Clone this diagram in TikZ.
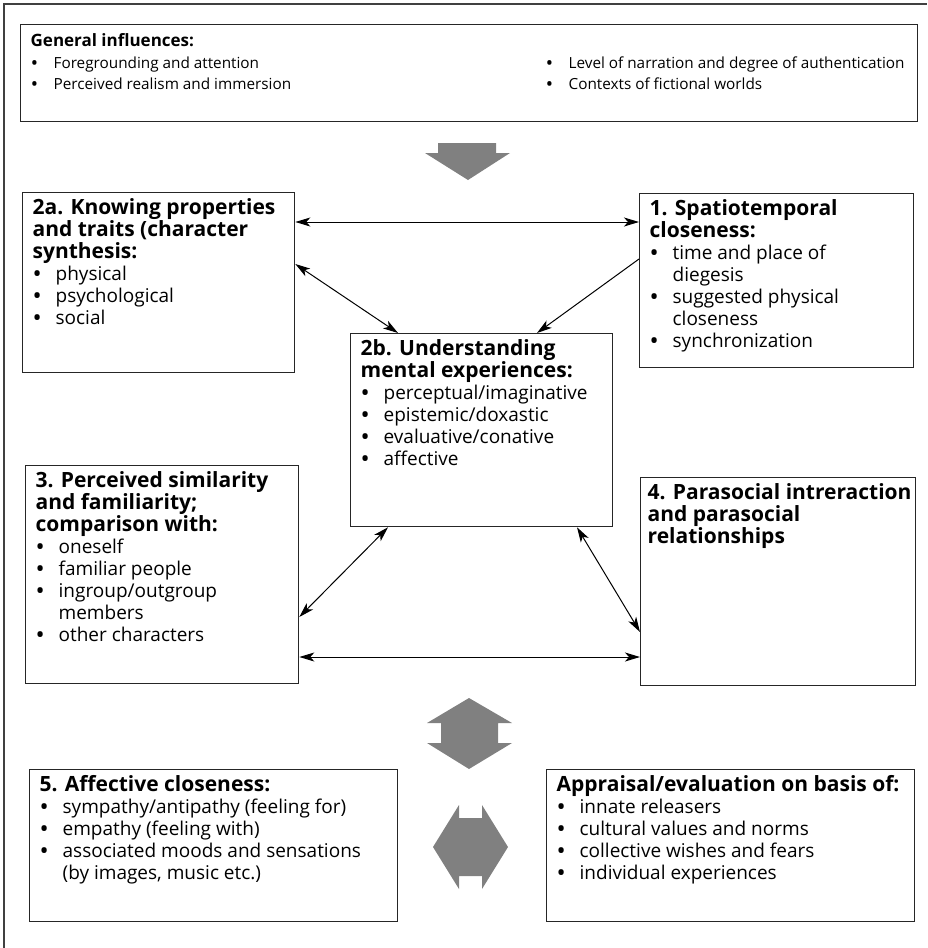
\documentclass[tikz,border=0pt]{standalone}
\usepackage{fontspec}
\setmainfont{Open Sans}
\usetikzlibrary{arrows.meta}

\definecolor{arrowgray}{RGB}{128,128,128}
\newcommand{\bul}{\makebox[23pt][l]{\hspace{1pt}{\bfseries\textbullet}}}
\newcommand{\itm}[1]{\par\hangindent=23pt\hangafter=1\noindent\bul #1}
\newcommand{\ttl}[1]{{\fontsize{21}{22}\selectfont\bfseries #1}}

\begin{document}
\begin{tikzpicture}[
  x=1pt, y=-1pt,
  font=\fontsize{19}{22}\selectfont,
  box/.style={draw=black!85, line width=1.3pt, anchor=north west, inner xsep=10pt, inner ysep=6pt},
  dbl/.style={{Stealth[length=15pt,width=9pt,inset=4pt]}-{Stealth[length=15pt,width=9pt,inset=4pt]}, line width=1pt},
  one/.style={-{Stealth[length=15pt,width=9pt,inset=4pt]}, line width=1pt},
  bigarrow/.style={fill=arrowgray}
]
\useasboundingbox (0,0) rectangle (927,948);
\draw[line width=1.3pt, black!75] (4,948) -- (4,4) -- (927,4);

% boxes
\node[box, inner ysep=9pt, font=\fontsize{15.3}{21.5}\selectfont] (gen) at (20,24) {\parbox[c][79pt][t]{877pt}{%
  \noindent{\fontsize{17}{21.5}\selectfont\bfseries General influences:}\par
  \noindent\makebox[515pt][l]{\bul Foregrounding and attention}\mbox{\bul Level of narration and degree of authentication}\par
  \noindent\makebox[515pt][l]{\bul Perceived realism and immersion}\mbox{\bul Contexts of fictional worlds}}};

\node[box] (b2a) at (22,192) {\parbox[c][168pt][t]{252pt}{%
  \noindent\ttl{2a. Knowing properties\\and traits (character\\synthesis:}%
  \itm{physical}\itm{psychological}\itm{social}}};

\node[box] (b1) at (639,193) {\parbox[c][162pt][t]{254pt}{%
  \noindent\ttl{1. Spatiotemporal\\closeness:}%
  \itm{time and place of\\diegesis}\itm{suggested physical\\closeness}\itm{synchronization}}};

\node[box] (b2b) at (350,333) {\parbox[c][181pt][t]{242pt}{%
  \noindent\ttl{2b. Understanding\\mental experiences:}%
  \itm{perceptual/imaginative}\itm{epistemic/doxastic}\itm{evaluative/conative}\itm{affective}}};

\node[box] (b3) at (25,465) {\parbox[c][206pt][t]{253pt}{%
  \noindent\ttl{3. Perceived similarity\\and familiarity;\\comparison with:}%
  \itm{oneself}\itm{familiar people}\itm{ingroup/outgroup\\members}\itm{other characters}}};

\node[box, inner xsep=7pt] (b4) at (640,477) {\parbox[c][196pt][t]{261pt}{%
  \noindent\ttl{\mbox{4. Parasocial intreraction}\\and parasocial\\relationships}}};

\node[box] (b5) at (29,769) {\parbox[c][140pt][t]{348pt}{%
  \noindent\ttl{5. Affective closeness:}%
  \itm{sympathy/antipathy (feeling for)}\itm{empathy (feeling with)}%
  \itm{associated moods and sensations\\(by images, music etc.)}}};

\node[box] (app) at (546,769) {\parbox[c][140pt][t]{348pt}{%
  \noindent\ttl{Appraisal/evaluation on basis of:}%
  \itm{innate releasers}\itm{cultural values and norms}\itm{collective wishes and fears}\itm{individual experiences}}};

% grey block arrows
\fill[bigarrow] (438,143) -- (496,143) -- (496,153) -- (510,153) -- (468,180) -- (425,153) -- (438,153) -- cycle;
\fill[bigarrow] (469,698) -- (512,723) -- (498,723) -- (498,743) -- (512,743) -- (469,769)
  -- (427,743) -- (441,743) -- (441,723) -- (427,723) -- cycle;
\fill[bigarrow] (433,847) -- (459,805) -- (459,818) -- (482,818) -- (482,805) -- (508,847)
  -- (482,889) -- (482,876) -- (459,876) -- (459,889) -- cycle;

% connectors
\draw[dbl] (b2a.east |- 0,222) -- (b1.west |- 0,222);
\draw[dbl] (b2a.east |- 0,264) -- (b2b.north -| 398,0);
\draw[one] (b1.west |- 0,259) -- (b2b.north -| 537,0);
\draw[dbl] (b2b.south -| 388,0) -- (b3.east |- 0,617);
\draw[dbl] (b2b.south -| 577,0) -- (b4.west |- 0,632);
\draw[dbl] (b3.east |- 0,657) -- (b4.west |- 0,657);
\end{tikzpicture}
\end{document}
